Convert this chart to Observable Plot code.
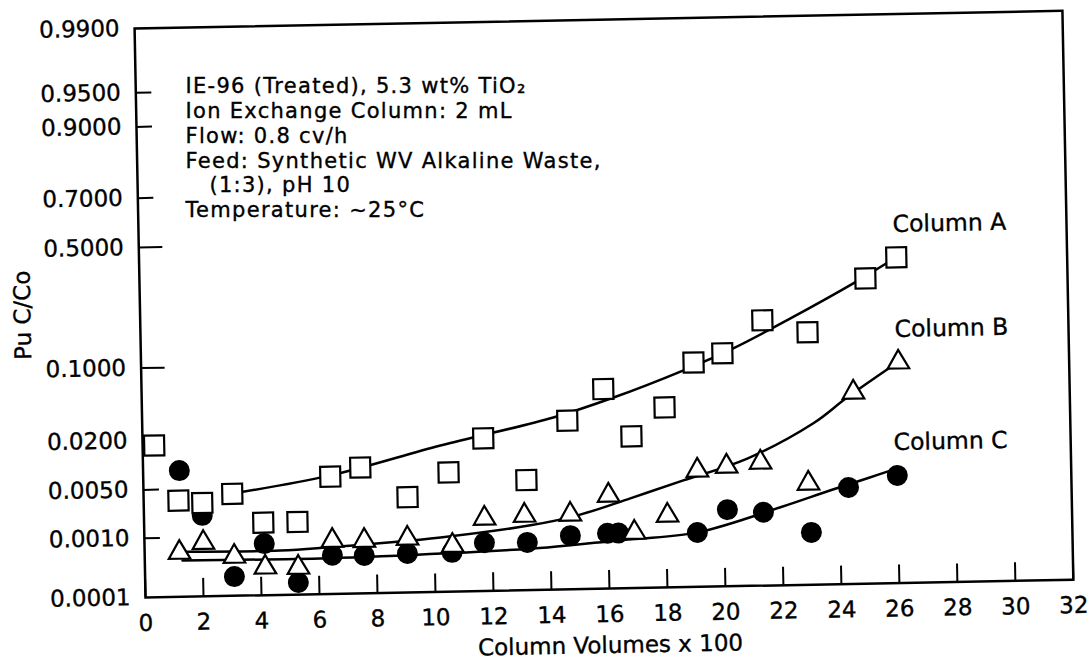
<!DOCTYPE html>
<html><head><meta charset="utf-8">
<script src="https://cdn.jsdelivr.net/npm/d3@7"></script>
<script src="https://cdn.jsdelivr.net/npm/@observablehq/plot@0.6"></script>
<style>
html,body{margin:0;padding:0;background:#fff;overflow:hidden;}
#chart svg{display:block;transform:rotate(-1.1deg);transform-origin:145px 597px;overflow:visible;}
#chart svg text{stroke:black;stroke-width:0.35px;}
</style></head><body><div id="chart"></div>
<script>
// ---- tick labels ----
const xTicks = [0,2,4,6,8,10,12,14,16,18,20,22,24,26,28,30,32];
const yTicks = [0.0001,0.001,0.005,0.02,0.1,0.5,0.7,0.9,0.95,0.99];
const yMajorTicks = [0.1,0.5];
const yMinorTicks = [0.001,0.005,0.02,0.7,0.9,0.95];

// ---- Column A (open squares) ----
const aVolumes = [0.4,1.20,2.02,3.06,4.11,5.29,6.45,7.49,9.10,10.53,11.75,13.21,14.66,15.92,16.86,18.02,19.05,20.05,21.45,23.0,25.03,26.11];
const aValues  = [0.0176,0.0035,0.0032,0.0042,0.0016,0.0016,0.0067,0.0086,0.0034,0.0071,0.018,0.0054,0.027,0.055,0.0176,0.0355,0.091,0.107,0.184,0.150,0.317,0.398];
// ---- Column B (open triangles) ----
const bVolumes = [1.20,2.03,3.09,4.15,5.29,6.48,7.58,9.07,10.62,11.74,13.12,14.70,16.03,16.90,18.05,19.11,20.12,21.29,22.93,24.54,26.11];
const bValues  = [0.00058,0.00082,0.00048,0.00031,0.00030,0.00081,0.00079,0.00083,0.00062,0.0016,0.00172,0.00173,0.00318,0.00088,0.00157,0.00655,0.00726,0.0080,0.00412,0.0461,0.0847];
// ---- Column C (filled circles) ----
const cVolumes = [1.25,2.01,3.08,4.13,5.28,6.47,7.57,9.06,10.6,11.72,13.20,14.69,15.97,16.35,19.07,20.12,21.36,23.0,24.31,26.0];
const cValues  = [0.0087,0.00213,0.00022,0.00076,0.000165,0.00047,0.000455,0.000475,0.00048,0.00067,0.00066,0.00082,0.00087,0.00087,0.00084,0.00184,0.00164,0.00078,0.00354,0.0050];

// ---- fitted curves ----
const aFitVolumes = [3.06,6.46,10.27,14.18,16.27,18.70,20.43,22.42,24.61,26.11];
const aFitValues  = [0.00424,0.00695,0.0152,0.0294,0.0455,0.0785,0.1166,0.188,0.2995,0.398];
const bFitVolumes = [1.20,4.68,6.30,10.21,13.32,14.95,16.78,18.62,20.84,23.14,24.33,26.0];
const bFitValues  = [0.0006,0.00058,0.00063,0.00084,0.00122,0.00167,0.00285,0.00487,0.009,0.0225,0.0413,0.082];
const cFitVolumes = [1.3,6.30,10.44,13.89,16.31,19.07,21.95,23.69,24.97,26.0];
const cFitValues  = [0.00043,0.00042,0.000465,0.00054,0.000666,0.000845,0.00193,0.00327,0.00466,0.0062];

const seriesNames = ["Column A","Column B","Column C"];
const noteLines = ["IE-96 (Treated), 5.3 wt% TiO\u2082","Ion Exchange Column: 2 mL","Flow: 0.8 cv/h","Feed: Synthetic WV Alkaline Waste,","\u00a0\u00a0\u00a0(1:3), pH 10","Temperature: ~25\u00b0C"];
const xLabel = "Column Volumes x 100";
const yLabel = "Pu C/Co";

// inverse normal CDF (probability scale)
function qnorm(p){
  const a=[-3.969683028665376e+01,2.209460984245205e+02,-2.759285104469687e+02,1.383577518672690e+02,-3.066479806614716e+01,2.506628277459239e+00];
  const b=[-5.447609879822406e+01,1.615858368580409e+02,-1.556989798598866e+02,6.680131188771972e+01,-1.328068155288572e+01];
  const c=[-7.784894002430293e-03,-3.223964580411365e-01,-2.400758277161838e+00,-2.549732539343734e+00,4.374664141464968e+00,2.938163982698783e+00];
  const d=[7.784695709041462e-03,3.224671290700398e-01,2.445134137142996e+00,3.754408661907416e+00];
  const pl=0.02425, ph=1-pl; let q,r;
  if(p<pl){q=Math.sqrt(-2*Math.log(p));return (((((c[0]*q+c[1])*q+c[2])*q+c[3])*q+c[4])*q+c[5])/((((d[0]*q+d[1])*q+d[2])*q+d[3])*q+1);}
  if(p<=ph){q=p-0.5;r=q*q;return (((((a[0]*r+a[1])*r+a[2])*r+a[3])*r+a[4])*r+a[5])*q/(((((b[0]*r+b[1])*r+b[2])*r+b[3])*r+b[4])*r+1);}
  q=Math.sqrt(-2*Math.log(1-p));return -(((((c[0]*q+c[1])*q+c[2])*q+c[3])*q+c[4])*q+c[5])/((((d[0]*q+d[1])*q+d[2])*q+d[3])*q+1);
}

const zip = (xs, ys) => xs.map((x,i)=>({x, y: ys[i]}));
const A = zip(aVolumes,aValues), B = zip(bVolumes,bValues), C = zip(cVolumes,cValues);
const AF = zip(aFitVolumes,aFitValues), BF = zip(bFitVolumes,bFitValues), CF = zip(cFitVolumes,cFitValues);
const lastPoints = [A, B, C].map((s,i)=>({name: seriesNames[i], x: s[s.length-1].x, y: s[s.length-1].y}));

const fmt = d3.format(".4f");
const labelByZ = new Map(yTicks.map(t=>[qnorm(t), fmt(t)]));
const py = d => qnorm(d.y);

const chart = Plot.plot({
  width: 1091, height: 680,
  marginLeft: 145, marginRight: 18, marginTop: 28, marginBottom: 83,
  style: {fontFamily: "'DejaVu Sans', sans-serif", fontSize: "23px", color: "black", background: "white"},
  x: {domain: [0,32]},
  y: {domain: [qnorm(0.0001), qnorm(0.99)]},
  marks: [
    Plot.axisX(xTicks, {tickSize: 0, tickPadding: 17, fontSize: 23, label: null}),
    Plot.axisX(xTicks, {tickSize: -18, tickFormat: () => "", strokeWidth: 2, label: null}),
    Plot.axisY(yTicks.map(qnorm), {tickSize: 0, tickPadding: 15, tickFormat: z => labelByZ.get(z), fontSize: 23, label: null}),
    Plot.axisY(yMajorTicks.map(qnorm), {tickSize: -24, tickFormat: () => "", strokeWidth: 2, label: null}),
    Plot.axisY(yMinorTicks.map(qnorm), {tickSize: -16, tickFormat: () => "", strokeWidth: 2, label: null}),
    Plot.frame({stroke: "black", strokeWidth: 2.5}),
    Plot.line(AF, {x: "x", y: py, curve: "catmull-rom", stroke: "black", strokeWidth: 2.5}),
    Plot.line(BF, {x: "x", y: py, curve: "catmull-rom", stroke: "black", strokeWidth: 2.5}),
    Plot.line(CF, {x: "x", y: py, curve: "catmull-rom", stroke: "black", strokeWidth: 2.5}),
    Plot.dot(C, {x: "x", y: py, r: 10.5, fill: "black", stroke: "none"}),
    Plot.dot(B, {x: "x", y: py, symbol: "triangle", r: 8, fill: "white", stroke: "black", strokeWidth: 2.2}),
    Plot.dot(A, {x: "x", y: py, symbol: "square", r: 11.3, fill: "white", stroke: "black", strokeWidth: 2.2}),
    Plot.text(lastPoints, {x: "x", y: py, text: "name", textAnchor: "start", dx: -3, dy: -33, fontSize: 23.5}),
    Plot.text([noteLines.join("\n")], {text: d => d, frameAnchor: "top-left", textAnchor: "start", lineAnchor: "top", dx: 50, dy: 48, rotate: 1.1, fontSize: 21, lineHeight: 1.18}),
    Plot.text([yLabel], {text: d => d, frameAnchor: "left", rotate: -90, dx: -117, textAnchor: "middle", lineAnchor: "middle", fontSize: 23}),
    Plot.text([xLabel], {text: d => d, frameAnchor: "bottom", dy: 57, textAnchor: "middle", lineAnchor: "middle", fontSize: 23})
  ]
});
// widen the annotation block's letter spacing to match the reference
chart.querySelectorAll("text").forEach(t => {
  if (t.textContent.startsWith("IE-96")) t.setAttribute("letter-spacing", "1.3");
});
document.getElementById("chart").appendChild(chart);
</script></body></html>
